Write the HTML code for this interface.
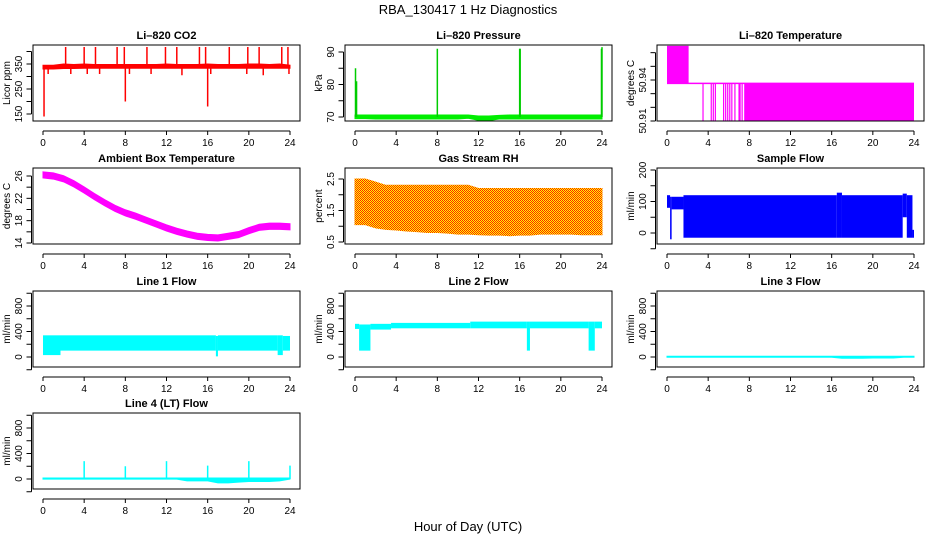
<!DOCTYPE html>
<html><head><meta charset="utf-8"><style>
body{margin:0;background:#fff;}
svg{display:block;font-family:"Liberation Sans",sans-serif;}
</style></head><body>
<svg id="chart" width="936" height="540" viewBox="0 0 936 540" xmlns="http://www.w3.org/2000/svg">
<defs>
<pattern id="rhpat" width="2" height="2" patternUnits="userSpaceOnUse">
<rect width="2" height="2" fill="#ffff00"/><rect width="1" height="1" fill="#ff2000"/><rect x="1" y="1" width="1" height="1" fill="#ff2000"/>
</pattern>
</defs>
<text x="468" y="14" text-anchor="middle" font-size="13">RBA_130417  1 Hz Diagnostics</text>
<text x="468" y="531" text-anchor="middle" font-size="13">Hour of Day (UTC)</text>
</svg>
<script>
// ---- data ----
const hours = [0,1,2,3,4,5,6,7,8,9,10,11,12,13,14,15,16,17,18,19,20,21,22,23,24];
const xTicks = [0,4,8,12,16,20,24];
// CO2
const co2Lo = [330,330,332,332,333,333,333,333,333,333,333,333,333,333,333,333,333,333,333,333,333,333,333,333,333];
const co2Hi = [345,345,350,348,350,348,348,348,348,348,348,348,350,348,348,348,350,348,348,348,350,350,348,350,345];
const co2SpikeHours = [2.2,4.0,5.1,7.2,7.9,10.1,11.9,13.0,15.2,15.8,18.1,19.9,21.0,23.2,23.8,0.1,8.0,16.0,0.5,2.7,4.3,5.5,8.4,10.5,13.5,16.3,19.8,21.4,23.9];
const co2SpikeVals = [418,418,418,418,418,418,418,418,418,418,418,418,418,418,418,140,200,180,310,310,310,310,310,310,305,310,310,305,310];
// Pressure
const presLo = [69.5,69.5,69.4,69.4,69.4,69.4,69.4,69.4,69.4,69.4,69.4,69.6,69.0,68.9,69.4,69.4,69.4,69.4,69.4,69.4,69.4,69.4,69.4,69.4,69.4];
const presHi = [70.6,70.6,70.6,70.6,70.6,70.6,70.6,70.6,70.6,70.6,70.6,70.6,70.3,70.3,70.5,70.6,70.6,70.6,70.6,70.6,70.6,70.6,70.6,70.6,70.6];
const presSpikeHours = [0.05,0.15,8.0,16.0,16.05,23.95,24.0];
const presSpikeVals = [85,81,91,91,91,91,91.5];
// Li-820 temperature
const ltHighStart = 0, ltHighEnd = 2.1, ltHighLo = 50.9375, ltHighHi = 50.965;
const ltMid = 50.9375;
const ltLowStart = 7.5, ltLowVal = 50.9098;
const ltDropHours = [3.5,4.3,4.5,4.7,5.5,5.7,5.9,6.1,6.3,6.6,7.0,7.1,7.3];
// Ambient box temperature
const ambMid = [26.2,26.0,25.5,24.6,23.5,22.3,21.2,20.2,19.4,18.8,18.1,17.4,16.7,16.1,15.6,15.2,15.0,14.9,15.2,15.5,16.2,16.8,17.0,17.0,16.9];
const ambHalf = 0.55;
// Gas stream RH
const rhHi = [2.5,2.5,2.4,2.3,2.3,2.3,2.3,2.3,2.3,2.3,2.3,2.3,2.2,2.2,2.2,2.2,2.2,2.2,2.2,2.2,2.2,2.2,2.2,2.2,2.2];
const rhLo = [1.05,1.05,0.95,0.9,0.88,0.85,0.83,0.8,0.8,0.78,0.75,0.75,0.73,0.72,0.72,0.7,0.72,0.72,0.75,0.75,0.75,0.75,0.73,0.73,0.73];
// Segment-based flows: start hour, end hour, low, high
const sfStart = [0, 0.3, 0.45, 1.6, 16.5, 17.0, 22.9, 23.3, 23.85];
const sfEnd   = [0.3, 0.45, 1.6, 16.5, 17.0, 22.9, 23.3, 23.85, 24.0];
const sfLo    = [80, -20, 75, -15, -15, -15, 50, -15, -15];
const sfHi    = [120, 115, 115, 120, 128, 120, 125, 120, 10];
const l1Start = [0, 1.7, 16.8, 17.0, 22.8, 23.3];
const l1End   = [1.7, 16.8, 17.0, 22.8, 23.3, 24.0];
const l1Lo    = [30, 100, 10, 100, 30, 100];
const l1Hi    = [340, 340, 330, 340, 340, 330];
const l2Start = [0, 0.4, 1.5, 3.5, 11.2, 16.7, 17.0, 22.7, 23.3];
const l2End   = [0.4, 1.5, 3.5, 11.2, 16.7, 17.0, 22.7, 23.3, 24.0];
const l2Lo    = [440, 100, 430, 450, 450, 100, 450, 100, 450];
const l2Hi    = [520, 510, 520, 535, 555, 555, 555, 555, 555];
// Line 3 flow
const l3Hi = [12,12,12,12,12,12,12,12,12,12,12,12,12,12,12,12,12,12,12,12,12,12,12,12,12];
const l3Lo = [-4,-4,-4,-4,-4,-4,-4,-4,-4,-4,-4,-4,-4,-4,-4,-4,-4,-20,-20,-20,-15,-15,-15,-4,-4];
// Line 4 flow
const l4Hi = [15,15,15,15,15,15,15,15,15,15,15,15,15,15,15,15,15,15,15,15,15,15,15,15,15];
const l4Lo = [-2,-2,-2,-2,-2,-2,-2,-2,-2,-2,-2,-2,-2,-2,-30,-30,-30,-60,-60,-50,-40,-40,-40,-30,-2];
const l4SpikeHours = [4.0,8.0,12.0,16.0,20.0,24.0];
const l4SpikeVals = [280,200,280,210,280,210];

const NS = 'http://www.w3.org/2000/svg';
const svg = document.getElementById('chart');

function mk(parent, tag, name, attrs) {
  const el = document.createElementNS(NS, tag);
  
  
  for (const k in attrs) el.setAttribute(k, attrs[k]);
  parent.appendChild(el);
  return el;
}

function panel(cfg) {
  const g = mk(svg, 'g', cfg.name, {});
  const L = cfg.left, R = cfg.left + 267, T = cfg.top, B = cfg.top + 76;
  const xs = h => (L + 10) + h * (247 / 24);
  const ys = v => cfg.y0px + (v - cfg.y0) * (cfg.y1px - cfg.y0px) / (cfg.y1 - cfg.y0);
  const plot = mk(g, 'g', cfg.name + '-plot-area', {});
  const clip = 'clip-' + cfg.name;
  const cp = mk(g, 'clipPath', cfg.name + '-clip', {id: clip});
  mk(cp, 'rect', cfg.name + '-clip-rect', {x: L, y: T, width: R - L, height: B - T});
  plot.setAttribute('clip-path', 'url(#' + clip + ')');
  cfg.draw(plot, xs, ys);
  mk(g, 'rect', cfg.name + '-frame', {x: L, y: T, width: R - L, height: B - T, fill: 'none', stroke: '#000', 'stroke-width': 1});
  mk(g, 'text', cfg.name + '-title', {x: (L + R) / 2, y: T - 6, 'text-anchor': 'middle', 'font-size': 11, 'font-weight': 'bold'}).textContent = cfg.title;
  const ax = B + 10;
  mk(g, 'line', cfg.name + '-x-axis', {x1: xs(0), x2: xs(24), y1: ax, y2: ax, stroke: '#000'});
  xTicks.forEach(t => {
    mk(g, 'line', cfg.name + '-x-tick', {x1: xs(t), x2: xs(t), y1: ax, y2: ax + 4, stroke: '#000'});
    mk(g, 'text', cfg.name + '-x-tick-label', {x: xs(t), y: ax + 15, 'text-anchor': 'middle', 'font-size': 10}).textContent = t;
  });
  const yt = cfg.yTicks;
  const axX = L - 1.5;
  mk(g, 'line', cfg.name + '-y-axis', {x1: axX, x2: axX, y1: ys(yt[0]), y2: ys(yt[yt.length - 1]), stroke: '#000'});
  yt.forEach(t => {
    mk(g, 'line', cfg.name + '-y-tick', {x1: axX - 5, x2: axX, y1: ys(t), y2: ys(t), stroke: '#000'});
  });
  cfg.yLabels.forEach(t => {
    const yy = ys(t);
    mk(g, 'text', cfg.name + '-y-tick-label', {x: L - 11, y: yy, 'text-anchor': 'middle', 'font-size': 10, transform: 'rotate(-90 ' + (L - 11) + ' ' + yy + ')'}).textContent = cfg.fmt ? cfg.fmt(t) : t;
  });
  const cy = (T + B) / 2;
  mk(g, 'text', cfg.name + '-y-axis-title', {x: L - 23, y: cy, 'text-anchor': 'middle', 'font-size': 10, transform: 'rotate(-90 ' + (L - 23) + ' ' + cy + ')'}).textContent = cfg.ylab;
}

function band(p, xs, ys, hi, lo, fill, name) {
  let d = '';
  hours.forEach((h, i) => { d += (i ? 'L' : 'M') + xs(h) + ' ' + ys(hi[i]) + ' '; });
  for (let i = hours.length - 1; i >= 0; i--) d += 'L' + xs(hours[i]) + ' ' + ys(lo[i]) + ' ';
  mk(p, 'path', name, {d: d + 'Z', fill: fill, stroke: fill, 'stroke-width': 1});
}
function segs(p, xs, ys, st, en, lo, hi, fill, name) {
  st.forEach((s, i) => {
    mk(p, 'rect', name, {x: xs(s), y: ys(hi[i]), width: Math.max(1, xs(en[i]) - xs(s)), height: ys(lo[i]) - ys(hi[i]), fill: fill});
  });
}
function spikes(p, xs, ys, hs, vs, base, color, name, w) {
  hs.forEach((h, i) => {
    mk(p, 'line', name, {x1: xs(h), x2: xs(h), y1: ys(base), y2: ys(vs[i]), stroke: color, 'stroke-width': w || 1.5});
  });
}

const colX = [33, 345, 657];
const rowY = [45, 168, 291, 413];

panel({name: 'co2-panel', title: 'Li\u2013820 CO2', ylab: 'Licor ppm', left: colX[0], top: rowY[0],
  y0: 150, y0px: 114, y1: 350, y1px: 64, yTicks: [150,200,250,300,350,400], yLabels: [150,250,350],
  draw: (p, xs, ys) => { band(p, xs, ys, co2Hi, co2Lo, '#ff0000', 'co2-series'); spikes(p, xs, ys, co2SpikeHours, co2SpikeVals, 338, '#ff0000', 'co2-spike'); }});

panel({name: 'pressure-panel', title: 'Li\u2013820 Pressure', ylab: 'kPa', left: colX[1], top: rowY[0],
  y0: 70, y0px: 117, y1: 90, y1px: 52, yTicks: [70,75,80,85,90], yLabels: [70,80,90],
  draw: (p, xs, ys) => { band(p, xs, ys, presHi, presLo, '#00ee00', 'pressure-series'); spikes(p, xs, ys, presSpikeHours, presSpikeVals, 70, '#00cc00', 'pressure-spike', 1.5); }});

panel({name: 'li820-temp-panel', title: 'Li\u2013820 Temperature', ylab: 'degrees C', left: colX[2], top: rowY[0],
  y0: 50.91, y0px: 121, y1: 50.94, y1px: 80, yTicks: [50.91,50.92,50.93,50.94,50.95,50.96], yLabels: [50.91,50.94], fmt: v => v.toFixed(2),
  draw: (p, xs, ys) => {
    mk(p, 'rect', 'li820-temp-high-band', {x: xs(ltHighStart), y: ys(ltHighHi), width: xs(ltHighEnd) - xs(ltHighStart), height: ys(ltHighLo) - ys(ltHighHi), fill: '#ff00ff'});
    mk(p, 'line', 'li820-temp-mid-line', {x1: xs(0), x2: xs(24), y1: ys(ltMid), y2: ys(ltMid), stroke: '#ff00ff', 'stroke-width': 1.5});
    mk(p, 'rect', 'li820-temp-low-band', {x: xs(ltLowStart), y: ys(ltMid), width: xs(24) - xs(ltLowStart), height: ys(ltLowVal) - ys(ltMid), fill: '#ff00ff'});
    spikes(p, xs, ys, ltDropHours, ltDropHours.map(() => ltLowVal), ltMid, '#ff00ff', 'li820-temp-drop', 1.2);
  }});

panel({name: 'ambient-temp-panel', title: 'Ambient Box Temperature', ylab: 'degrees C', left: colX[0], top: rowY[1],
  y0: 14, y0px: 243, y1: 26, y1px: 176, yTicks: [14,16,18,20,22,24,26], yLabels: [14,18,22,26],
  draw: (p, xs, ys) => band(p, xs, ys, ambMid.map(v => v + ambHalf), ambMid.map(v => v - ambHalf), '#ff00ff', 'ambient-temp-series')});

panel({name: 'rh-panel', title: 'Gas Stream RH', ylab: 'percent', left: colX[1], top: rowY[1],
  y0: 0.5, y0px: 242, y1: 2.5, y1px: 179, yTicks: [0.5,1,1.5,2,2.5], yLabels: [0.5,1.5,2.5],
  draw: (p, xs, ys) => band(p, xs, ys, rhHi, rhLo, 'url(#rhpat)', 'rh-series')});

panel({name: 'sample-flow-panel', title: 'Sample Flow', ylab: 'ml/min', left: colX[2], top: rowY[1],
  y0: 0, y0px: 233, y1: 200, y1px: 170, yTicks: [-50,0,50,100,150,200], yLabels: [0,100,200],
  draw: (p, xs, ys) => segs(p, xs, ys, sfStart, sfEnd, sfLo, sfHi, '#0000ff', 'sample-flow-segment')});

function flowPanel(name, title, col, row, draw) {
  const off = rowY[row] - rowY[2];
  panel({name: name, title: title, ylab: 'ml/min', left: colX[col], top: rowY[row],
    y0: 0, y0px: 357 + off, y1: 800, y1px: 306 + off, yTicks: [-200,0,200,400,600,800,1000], yLabels: [0,400,800],
    draw: draw});
}
flowPanel('line1-flow-panel', 'Line 1 Flow', 0, 2, (p, xs, ys) => segs(p, xs, ys, l1Start, l1End, l1Lo, l1Hi, '#00ffff', 'line1-flow-segment'));
flowPanel('line2-flow-panel', 'Line 2 Flow', 1, 2, (p, xs, ys) => segs(p, xs, ys, l2Start, l2End, l2Lo, l2Hi, '#00ffff', 'line2-flow-segment'));
flowPanel('line3-flow-panel', 'Line 3 Flow', 2, 2, (p, xs, ys) => band(p, xs, ys, l3Hi, l3Lo, '#00ffff', 'line3-flow-series'));
flowPanel('line4-flow-panel', 'Line 4 (LT) Flow', 0, 3, (p, xs, ys) => {
  band(p, xs, ys, l4Hi, l4Lo, '#00ffff', 'line4-flow-series');
  spikes(p, xs, ys, l4SpikeHours, l4SpikeVals, 0, '#00ffff', 'line4-spike', 1.5);
});
</script>
</body></html>
